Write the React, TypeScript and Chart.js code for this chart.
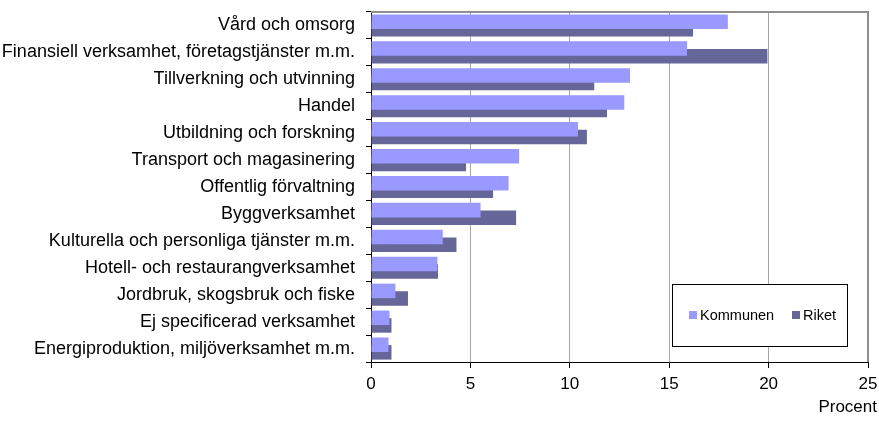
import React, { useEffect, useRef } from "react";
import { Chart, registerables } from "chart.js";

Chart.register(...registerables);

const categories = [
  "Vård och omsorg",
  "Finansiell verksamhet, företagstjänster m.m.",
  "Tillverkning och utvinning",
  "Handel",
  "Utbildning och forskning",
  "Transport och magasinering",
  "Offentlig förvaltning",
  "Byggverksamhet",
  "Kulturella och personliga tjänster m.m.",
  "Hotell- och restaurangverksamhet",
  "Jordbruk, skogsbruk och fiske",
  "Ej specificerad verksamhet",
  "Energiproduktion, miljöverksamhet m.m.",
];

const kommunen = [17.95, 15.9, 13.03, 12.74, 10.41, 7.45, 6.92, 5.51, 3.61, 3.34, 1.23, 0.93, 0.88];
const riket = [16.2, 19.94, 11.23, 11.87, 10.86, 4.78, 6.14, 7.3, 4.3, 3.37, 1.86, 1.03, 1.03];

const seriesNames = ["Kommunen", "Riket"];
const seriesColors = ["#9999FF", "#666699"];
const xTicks = [0, 5, 10, 15, 20, 25];
const unitLabel = "Procent";

const FONT = "'Liberation Sans', Arial, sans-serif";

const framePlugin = {
  id: "frame",
  beforeDatasetsDraw(chart: any) {
    const { ctx, chartArea } = chart;
    ctx.save();
    ctx.strokeStyle = "#8f8f8f";
    ctx.lineWidth = 2;
    ctx.beginPath();
    ctx.moveTo(chartArea.left, chartArea.top);
    ctx.lineTo(chartArea.right, chartArea.top);
    ctx.lineTo(chartArea.right, chartArea.bottom);
    ctx.stroke();
    ctx.restore();
  },
};

const extrasPlugin = {
  id: "extras",
  afterDraw(chart: any) {
    const { ctx, chartArea } = chart;
    ctx.save();
    ctx.font = `17px ${FONT}`;
    ctx.fillStyle = "#000";
    ctx.textAlign = "right";
    ctx.textBaseline = "alphabetic";
    ctx.fillText(unitLabel, chart.width - 2, chartArea.bottom + 50);

    const w = 175;
    const h = 62;
    const right = chartArea.right - 21;
    const bottom = chartArea.bottom - 16;
    const left = right - w;
    const top = bottom - h;
    ctx.fillStyle = "#fff";
    ctx.fillRect(left, top, w, h);
    ctx.strokeStyle = "#000";
    ctx.lineWidth = 1;
    ctx.strokeRect(Math.round(left) + 0.5, Math.round(top) + 0.5, w, h);
    const cy = top + h / 2;
    const offsets = [17, 120];
    ctx.font = `14.5px ${FONT}`;
    ctx.textAlign = "left";
    ctx.textBaseline = "middle";
    chart.data.datasets.forEach((ds: any, i: number) => {
      const x = left + offsets[i];
      ctx.fillStyle = ds.backgroundColor;
      ctx.fillRect(x, cy - 4, 8, 8);
      ctx.fillStyle = "#000";
      ctx.fillText(ds.label, x + 11, cy + 1);
    });
    ctx.restore();
  },
};

export default function App() {
  const ref = useRef<HTMLCanvasElement | null>(null);

  useEffect(() => {
    if (!ref.current) return;
    const chart = new Chart(ref.current, {
      type: "bar",
      data: {
        labels: categories,
        datasets: [
          {
            label: seriesNames[0],
            data: kommunen,
            backgroundColor: seriesColors[0],
            borderWidth: 0,
            categoryPercentage: 0.565,
            barPercentage: 1.91,
          },
          {
            label: seriesNames[1],
            data: riket,
            backgroundColor: seriesColors[1],
            borderWidth: 0,
            categoryPercentage: 0.565,
            barPercentage: 1.91,
          },
        ],
      },
      options: {
        indexAxis: "y",
        responsive: false,
        devicePixelRatio: 1,
        animation: false,
        layout: { padding: { top: 12, right: 11, bottom: 0, left: 0 } },
        plugins: {
          legend: { display: false },
          tooltip: { enabled: false },
          title: { display: false },
        },
        scales: {
          x: {
            type: "linear",
            min: 0,
            max: 25,
            afterBuildTicks: (scale: any) => {
              scale.ticks = xTicks.map((v) => ({ value: v }));
            },
            afterFit: (scale: any) => {
              scale.height = 59;
              scale.paddingLeft = 0;
              scale.paddingRight = 0;
            },
            ticks: {
              color: "#000",
              font: { family: FONT, size: 17 },
              padding: 6,
              maxRotation: 0,
            },
            grid: {
              color: "#a6a6a6",
              lineWidth: 1,
              tickColor: "#000",
              tickLength: 6,
              drawTicks: true,
            },
            border: { color: "#000", width: 1 },
          },
          y: {
            type: "category",
            afterFit: (scale: any) => {
              scale.width = 371;
              scale.paddingTop = 0;
              scale.paddingBottom = 0;
            },
            ticks: {
              color: "#000",
              font: { family: FONT, size: 18 },
              padding: 11,
              autoSkip: false,
            },
            grid: {
              drawOnChartArea: false,
              tickColor: "#000",
              tickLength: 5,
              offset: true,
            },
            border: { color: "#000", width: 1 },
          },
        },
      },
      plugins: [framePlugin, extrasPlugin],
    });
    return () => chart.destroy();
  }, []);

  return (
    <div style={{ position: "fixed", left: 0, top: 0, width: 879, height: 421, background: "#fff" }}>
      <canvas ref={ref} width={879} height={421} style={{ display: "block", width: 879, height: 421 }} />
    </div>
  );
}
